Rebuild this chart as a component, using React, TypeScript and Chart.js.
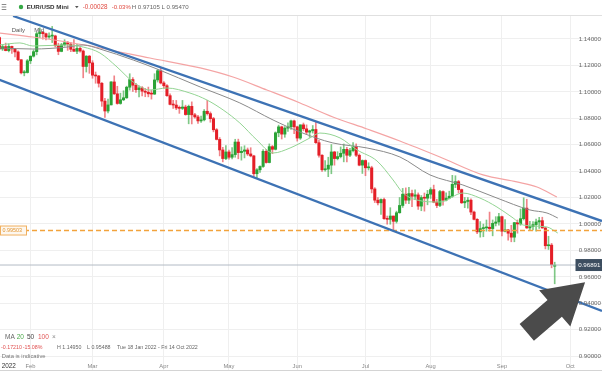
import React, { useEffect, useRef } from "react";
import { Chart, registerables } from "chart.js";
Chart.register(...registerables);

// Daily EUR/USD candles, 18 Jan 2022 (index 0) .. 26 Sep 2022 (index 179), trading-day index
const opens = [
  1.1410,1.1325,1.1342,1.1312,1.1344,1.1325,1.1302,1.1243,1.1144,1.1146,
  1.1235,1.1270,1.1304,1.1440,1.1452,1.1440,1.1415,1.1422,1.1423,1.1349,
  1.1306,1.1356,1.1372,1.1361,1.1322,1.1307,1.1329,1.1309,1.1192,1.1270,
  1.1219,1.1126,1.1120,1.1065,1.0930,1.0855,1.0901,1.1075,1.0985,1.0912,
  1.0940,1.0955,1.1035,1.1093,1.1050,1.1016,1.1030,1.1005,1.0997,1.0985,
  1.0983,1.1090,1.1160,1.1067,1.1046,1.0971,1.0905,1.0900,1.0878,1.0875,
  1.0885,1.0828,1.0890,1.0826,1.0810,1.0780,1.0788,1.0853,1.0835,1.0797,
  1.0713,1.0640,1.0560,1.0495,1.0545,1.0505,1.0525,1.0620,1.0540,1.0550,
  1.0560,1.0530,1.0515,1.0380,1.0410,1.0435,1.0550,1.0465,1.0585,1.0565,
  1.0690,1.0735,1.0680,1.0725,1.0735,1.0780,1.0735,1.0650,1.0750,1.0720,
  1.0695,1.0705,1.0715,1.0615,1.0520,1.0410,1.0415,1.0445,1.0545,1.0495,
  1.0510,1.0535,1.0565,1.0520,1.0555,1.0585,1.0520,1.0445,1.0480,1.0425,
  1.0425,1.0265,1.0180,1.0160,1.0185,1.0040,1.0035,1.0060,1.0020,1.0085,
  1.0140,1.0225,1.0180,1.0230,1.0210,1.0220,1.0135,1.0200,1.0195,1.0225,
  1.0260,1.0165,1.0140,1.0245,1.0180,1.0195,1.0210,1.0300,1.0320,1.0260,
  1.0160,1.0170,1.0180,1.0090,1.0035,0.9940,0.9965,0.9970,0.9975,0.9965,
  1.0005,1.0015,1.0055,0.9945,0.9955,0.9930,0.9900,1.0010,1.0000,1.0040,
  1.0120,0.9970,0.9980,0.9995,1.0015,1.0025,0.9970,0.9835,0.9840,0.9680,
];
const highs = [
  1.1417,1.1357,1.1369,1.1363,1.1347,1.1330,1.1310,1.1245,1.1162,1.1245,
  1.1272,1.1317,1.1451,1.1484,1.1454,1.1445,1.1446,1.1495,1.1429,1.1368,
  1.1367,1.1395,1.1382,1.1374,1.1395,1.1360,1.1343,1.1317,1.1274,1.1276,
  1.1236,1.1150,1.1125,1.1071,1.0950,1.0945,1.1078,1.1121,1.1042,1.0990,
  1.1008,1.1043,1.1137,1.1107,1.1064,1.1046,1.1039,1.1026,1.1036,1.1011,
  1.1137,1.1170,1.1185,1.1077,1.1054,1.0985,1.0936,1.0935,1.0893,1.0935,
  1.0899,1.0900,1.0924,1.0838,1.0822,1.0817,1.0866,1.0936,1.0848,1.0807,
  1.0722,1.0654,1.0580,1.0594,1.0560,1.0578,1.0641,1.0642,1.0584,1.0592,
  1.0575,1.0577,1.0520,1.0420,1.0440,1.0563,1.0564,1.0606,1.0594,1.0697,
  1.0748,1.0740,1.0737,1.0765,1.0787,1.0786,1.0740,1.0750,1.0764,1.0750,
  1.0710,1.0745,1.0774,1.0632,1.0525,1.0480,1.0505,1.0601,1.0550,1.0547,
  1.0583,1.0605,1.0580,1.0572,1.0615,1.0606,1.0530,1.0485,1.0485,1.0463,
  1.0437,1.0275,1.0200,1.0190,1.0195,1.0060,1.0123,1.0060,1.0097,1.0200,
  1.0269,1.0273,1.0277,1.0256,1.0258,1.0235,1.0215,1.0234,1.0254,1.0274,
  1.0294,1.0187,1.0254,1.0250,1.0235,1.0248,1.0368,1.0365,1.0330,1.0264,
  1.0200,1.0200,1.0190,1.0098,1.0040,1.0018,0.9999,1.0030,1.0090,1.0030,
  1.0055,1.0080,1.0060,1.0033,0.9960,0.9990,1.0012,1.0030,1.0113,1.0198,
  1.0187,1.0020,1.0018,1.0036,1.0050,1.0051,0.9976,0.9907,0.9853,0.97105,
];
const lows = [
  1.1323,1.1313,1.1310,1.1302,1.1290,1.1264,1.1236,1.1136,1.1121,1.1142,
  1.1214,1.1263,1.1280,1.1410,1.1398,1.1393,1.1405,1.1373,1.1340,1.1281,
  1.1303,1.1346,1.1314,1.1304,1.1305,1.1288,1.1300,1.1106,1.1150,1.1140,
  1.1103,1.1065,1.1036,1.0890,1.0806,1.0840,1.0901,1.0980,1.0906,1.0906,
  1.0933,1.0950,1.1013,1.1003,1.0996,1.0962,1.0970,1.0963,1.0962,1.0945,
  1.0980,1.1074,1.1060,1.1028,1.0965,1.0901,1.0875,1.0865,1.0837,1.0866,
  1.0823,1.0758,1.0757,1.0800,1.0761,1.0769,1.0780,1.0824,1.0770,1.0697,
  1.0636,1.0515,1.0470,1.0487,1.0490,1.0492,1.0505,1.0493,1.0483,1.0500,
  1.0518,1.0508,1.0354,1.0350,1.0390,1.0428,1.0460,1.0462,1.0532,1.0560,
  1.0660,1.0643,1.0656,1.0700,1.0716,1.0683,1.0627,1.0640,1.0705,1.0680,
  1.0655,1.0688,1.0610,1.0505,1.0398,1.0400,1.0358,1.0380,1.0445,1.0485,
  1.0500,1.0470,1.0470,1.0510,1.0545,1.0510,1.0440,1.0382,1.0365,1.0408,
  1.0235,1.0162,1.0144,1.0072,1.0035,0.9998,0.9998,0.9952,1.0007,1.0081,
  1.0125,1.0155,1.0153,1.0130,1.0183,1.0110,1.0100,1.0097,1.0145,1.0193,
  1.0160,1.0123,1.0130,1.0142,1.0175,1.0190,1.0202,1.0275,1.0235,1.0155,
  1.0123,1.0120,1.0070,1.0030,0.9926,0.9900,0.9903,0.9945,0.9945,0.9910,
  0.9985,0.9990,0.9910,0.9940,0.9877,0.9865,0.9865,0.9930,0.9990,1.0030,
  0.9966,0.9955,0.9955,0.9945,0.9966,0.9967,0.9811,0.9807,0.9668,0.9547,
];
const closes = [
  1.1325,1.1342,1.1312,1.1344,1.1325,1.1302,1.1243,1.1144,1.1146,1.1235,
  1.1270,1.1304,1.1440,1.1452,1.1440,1.1415,1.1422,1.1423,1.1349,1.1306,
  1.1356,1.1372,1.1361,1.1322,1.1307,1.1329,1.1309,1.1192,1.1270,1.1219,
  1.1126,1.1120,1.1065,1.0930,1.0855,1.0901,1.1075,1.0985,1.0912,1.0940,
  1.0955,1.1035,1.1093,1.1050,1.1016,1.1030,1.1005,1.0997,1.0985,1.0983,
  1.1090,1.1160,1.1067,1.1046,1.0971,1.0905,1.0900,1.0878,1.0875,1.0885,
  1.0828,1.0890,1.0826,1.0810,1.0780,1.0788,1.0853,1.0835,1.0797,1.0713,
  1.0640,1.0560,1.0495,1.0545,1.0505,1.0525,1.0620,1.0540,1.0550,1.0560,
  1.0530,1.0515,1.0380,1.0410,1.0435,1.0550,1.0465,1.0585,1.0565,1.0690,
  1.0735,1.0680,1.0725,1.0735,1.0780,1.0735,1.0650,1.0750,1.0720,1.0695,
  1.0705,1.0715,1.0615,1.0520,1.0410,1.0415,1.0445,1.0545,1.0495,1.0510,
  1.0535,1.0565,1.0520,1.0555,1.0585,1.0520,1.0445,1.0480,1.0425,1.0425,
  1.0265,1.0180,1.0160,1.0185,1.0040,1.0035,1.0060,1.0020,1.0085,1.0140,
  1.0225,1.0180,1.0230,1.0210,1.0220,1.0135,1.0200,1.0195,1.0225,1.0260,
  1.0165,1.0140,1.0245,1.0180,1.0195,1.0210,1.0300,1.0320,1.0260,1.0160,
  1.0170,1.0180,1.0090,1.0035,0.9940,0.9965,0.9970,0.9975,0.9965,1.0005,
  1.0015,1.0055,0.9945,0.9955,0.9930,0.9900,1.0010,1.0000,1.0040,1.0120,
  0.9970,0.9980,0.9995,1.0015,1.0025,0.9970,0.9835,0.9840,0.9692,0.96891,
];

// Moving averages (trading-day index, value)
const ma20Idx = [0,6.6,10.8,21.8,27,32.4,37.9,43.1,48.5,54,61.4,66.9,72.1,77.5,83,88.2,93.7,100.1,103.3,109.8,115.3,121.7,126.9,130.1,134.6,142,149.4,154.9,160.4,165.6,168.8,176.5,180];
const ma20Vals = [1.1355,1.1370,1.1347,1.1355,1.1339,1.1294,1.1188,1.1075,1.1014,1.1029,1.0991,1.0938,1.0863,1.0764,1.0635,1.0537,1.0575,1.0651,1.0688,1.0651,1.0560,1.0477,1.0333,1.0234,1.0181,1.0166,1.0234,1.0196,1.0128,1.0045,0.9992,0.9977,0.9931];
const ma50Idx = [0,10.8,21.8,27,32.4,43.1,50.8,64.7,77.5,88.2,96.9,107.5,118.5,129.1,138.8,149.4,160.4,171,176.5,180];
const ma50Vals = [1.1332,1.1324,1.1339,1.1355,1.1324,1.1241,1.1173,1.1037,1.0916,1.0787,1.0696,1.0613,1.0575,1.0507,1.0371,1.0295,1.0196,1.0106,1.0083,1.0045];
const ma100Idx = [0,10.8,21.8,32.4,48.5,64.7,75.3,86.2,96.9,107.5,118.5,129.1,142,155.9,166.8,173.3,179.7];
const ma100Vals = [1.1445,1.1415,1.1377,1.1332,1.1256,1.1181,1.1112,1.1014,1.0916,1.0810,1.0719,1.0628,1.0507,1.0371,1.0318,1.0280,1.0204];

// Trend channel, support level, last price, arrow
const channelUpperIdx = [4.4, 194.25];
const channelUpperVals = [1.1574, 1.0022];
const channelLowerIdx = [0, 194.25];
const channelLowerVals = [1.1091, 0.9341];
const supportLevel = 0.99503;
const lastPrice = 0.96891;
const arrowTail = [170.0, 0.9180];
const arrowTip = [188.8, 0.9558];

// Axes
const xMin = 0.177;
const xMax = 194.25;
const yMin = 0.8887;
const yMax = 1.1574;
const xTickIdx = [10, 30, 53, 74, 96, 118, 139, 162, 184];
const xTickLabels = ["Feb", "Mar", "Apr", "May", "Jun", "Jul", "Aug", "Sep", "Oct"];
const yearLabel = "2022";
const yTicks = [0.90, 0.92, 0.94, 0.96, 0.98, 1.00, 1.02, 1.04, 1.06, 1.08, 1.10, 1.12, 1.14];

const FONT = '"Liberation Sans", Arial, sans-serif';

function txt(ctx: CanvasRenderingContext2D, s: string, x: number, y: number, size: number, color: string, align: CanvasTextAlign = "left", weight = "normal") {
  ctx.font = `${weight} ${size}px ${FONT}`;
  ctx.fillStyle = color;
  ctx.textAlign = align;
  ctx.textBaseline = "middle";
  ctx.fillText(s, x, y);
}

const overlay = {
  id: "overlay",
  afterDraw(chart: any) {
    const ctx: CanvasRenderingContext2D = chart.ctx;
    const xs = chart.scales.x;
    const ys = chart.scales.y;
    const W = chart.width;
    ctx.save();

    // arrow
    const tx = xs.getPixelForValue(arrowTip[0]);
    const ty = ys.getPixelForValue(arrowTip[1]);
    const bx = xs.getPixelForValue(arrowTail[0]);
    const by = ys.getPixelForValue(arrowTail[1]);
    const dx = tx - bx, dy = ty - by;
    const len = Math.hypot(dx, dy);
    const ux = dx / len, uy = dy / len;
    const nx = -uy, ny = ux;
    const headLen = 40, headHalf = 24, shaftHalf = 11;
    const hx = tx - ux * headLen, hy = ty - uy * headLen;
    ctx.beginPath();
    ctx.moveTo(bx + nx * shaftHalf, by + ny * shaftHalf);
    ctx.lineTo(hx + nx * shaftHalf, hy + ny * shaftHalf);
    ctx.lineTo(hx + nx * headHalf, hy + ny * headHalf);
    ctx.lineTo(tx, ty);
    ctx.lineTo(hx - nx * headHalf, hy - ny * headHalf);
    ctx.lineTo(hx - nx * shaftHalf, hy - ny * shaftHalf);
    ctx.lineTo(bx - nx * shaftHalf, by - ny * shaftHalf);
    ctx.closePath();
    ctx.fillStyle = "#4b4b4b";
    ctx.fill();

    // y tick labels
    yTicks.forEach((v) => {
      txt(ctx, v.toFixed(5), W - 1, ys.getPixelForValue(v), 6.2, "#666", "right");
    });

    // last price box
    const lp = ys.getPixelForValue(lastPrice);
    ctx.fillStyle = "#3d4e60";
    ctx.fillRect(575.5, lp - 6, 26.5, 12);
    txt(ctx, lastPrice.toFixed(5), W - 1.5, lp + 0.3, 6.2, "#ffffff", "right");

    // support label
    const sp = ys.getPixelForValue(supportLevel);
    ctx.fillStyle = "#fdf7ef";
    ctx.fillRect(0.5, sp - 4.5, 26, 9);
    ctx.strokeStyle = "#f0b060";
    ctx.lineWidth = 1;
    ctx.strokeRect(0.5, sp - 4.5, 26, 9);
    txt(ctx, supportLevel.toFixed(5), 2.5, sp + 0.2, 5.4, "#e39530");

    // header
    ctx.fillStyle = "#ffffff";
    ctx.fillRect(0, 0, W, 15);
    ctx.strokeStyle = "#e0e0e0";
    ctx.beginPath(); ctx.moveTo(0, 15.5); ctx.lineTo(W, 15.5); ctx.stroke();
    ctx.strokeStyle = "#8a8a8a";
    [4.5, 7, 9.5].forEach((yy) => { ctx.beginPath(); ctx.moveTo(1.7, yy); ctx.lineTo(6.3, yy); ctx.stroke(); });
    ctx.fillStyle = "#35a845";
    ctx.beginPath(); ctx.arc(21, 7, 2.2, 0, Math.PI * 2); ctx.fill();
    txt(ctx, "EUR/USD Mini", 26.7, 7, 6.2, "#333", "left", "bold");
    ctx.fillStyle = "#555";
    ctx.beginPath(); ctx.moveTo(75, 6); ctx.lineTo(78.6, 6); ctx.lineTo(76.8, 8.2); ctx.closePath(); ctx.fill();
    txt(ctx, "-0.00028", 82.7, 7, 6.3, "#e0483f");
    txt(ctx, "-0.03%", 111.7, 7, 6.0, "#e0483f");
    txt(ctx, "H 0.97105 L 0.95470", 131.7, 7, 6.1, "#666");

    txt(ctx, "Daily", 11.7, 30.5, 6, "#555");
    txt(ctx, "Mid", 34.3, 30.5, 6, "#555");

    // legend bottom-left
    txt(ctx, "MA", 5, 337, 6.5, "#666");
    txt(ctx, "20", 16.7, 337, 6.5, "#49a949");
    txt(ctx, "50", 27, 337, 6.5, "#444");
    txt(ctx, "100", 38, 337, 6.5, "#e05555");
    txt(ctx, "\u00d7", 52, 337, 6.5, "#888");
    txt(ctx, "-0.17210", 1, 347.5, 5.3, "#e05050");
    txt(ctx, "-15.08%", 22.7, 347.5, 5.3, "#e05050");
    txt(ctx, "H 1.14950", 57, 347.5, 5.3, "#666");
    txt(ctx, "L 0.95488", 87, 347.5, 5.3, "#666");
    txt(ctx, "Tue 18 Jan 2022 - Fri 14 Oct 2022", 117, 347.5, 5.3, "#666");
    txt(ctx, "Data is indicative", 1.7, 356.3, 5.8, "#777");

    // x labels
    txt(ctx, yearLabel, 1.7, 366, 6.4, "#333");
    xTickIdx.forEach((v, i) => {
      txt(ctx, xTickLabels[i], xs.getPixelForValue(v), 366, 5.8, "#888", "center");
    });
    ctx.strokeStyle = "#d4d4d4";
    ctx.beginPath(); ctx.moveTo(0, 370.5); ctx.lineTo(W, 370.5); ctx.stroke();

    ctx.restore();
  },
};

export default function App() {
  const ref = useRef<HTMLCanvasElement>(null);
  useEffect(() => {
    const canvas = ref.current!;
    const up = closes.map((c, i) => c >= opens[i]);
    const bodyColors = up.map((u) => (u ? "#2aa336" : "#e41e27"));
    const wickColors = up.map((u) => (u ? "rgba(42,163,54,0.6)" : "rgba(228,30,39,0.55)"));
    const wickData = closes.map((_, i) => ({ x: i, y: [lows[i], highs[i]] }));
    const bodyData = closes.map((c, i) => ({ x: i, y: [opens[i], c] }));
    const pts = (xa: number[], ya: number[]) => xa.map((x, i) => ({ x, y: ya[i] }));
    const lineBase = { type: "line", pointRadius: 0, fill: false, borderCapStyle: "butt" };

    const chart = new Chart(canvas, {
      type: "bar",
      data: {
        datasets: [
          { ...lineBase, label: "Upper channel", data: pts(channelUpperIdx, channelUpperVals), borderColor: "#3d72b4", borderWidth: 2.3, order: 0 },
          { ...lineBase, label: "Lower channel", data: pts(channelLowerIdx, channelLowerVals), borderColor: "#3d72b4", borderWidth: 2.3, order: 0 },
          { ...lineBase, label: "Support", data: [{ x: xMin, y: supportLevel }, { x: xMax, y: supportLevel }], borderColor: "#f2a33c", borderWidth: 1.5, borderDash: [5, 3], order: 1 },
          { ...lineBase, label: "Last", data: [{ x: xMin, y: lastPrice }, { x: xMax, y: lastPrice }], borderColor: "#b3bbc5", borderWidth: 1, order: 1 },
          { ...lineBase, label: "MA 20", data: pts(ma20Idx, ma20Vals), borderColor: "#93d493", borderWidth: 1, cubicInterpolationMode: "monotone", order: 2 },
          { ...lineBase, label: "MA 50", data: pts(ma50Idx, ma50Vals), borderColor: "#8a8a8a", borderWidth: 1, cubicInterpolationMode: "monotone", order: 3 },
          { ...lineBase, label: "MA 100", data: pts(ma100Idx, ma100Vals), borderColor: "#f4a4a4", borderWidth: 1.2, cubicInterpolationMode: "monotone", order: 4 },
          { type: "bar", label: "Body", data: bodyData, backgroundColor: bodyColors, barThickness: 2.4, minBarLength: 1, grouped: false, borderWidth: 0, order: 5 },
          { type: "bar", label: "Wick", data: wickData, backgroundColor: wickColors, barThickness: 1, grouped: false, borderWidth: 0, order: 6 },
        ],
      } as any,
      options: {
        responsive: false,
        animation: false,
        devicePixelRatio: 1,
        events: [],
        layout: { padding: { top: 16, left: 0, right: 0, bottom: 0 } },
        plugins: { legend: { display: false }, tooltip: { enabled: false } },
        scales: {
          x: {
            type: "linear",
            min: xMin,
            max: xMax,
            offset: false,
            ticks: { display: false },
            grid: { color: "#efefef", drawTicks: false, offset: false },
            border: { display: false },
            afterBuildTicks: (s: any) => { s.ticks = xTickIdx.map((v) => ({ value: v })); },
          },
          y: {
            type: "linear",
            position: "right",
            min: yMin,
            max: yMax,
            ticks: { display: false },
            grid: { color: "#efefef", drawTicks: false },
            border: { display: false },
            afterBuildTicks: (s: any) => { s.ticks = yTicks.map((v) => ({ value: v })); },
          },
        },
      } as any,
      plugins: [overlay],
    } as any);
    return () => chart.destroy();
  }, []);

  return (
    <div style={{ position: "fixed", left: 0, top: 0, width: 602, height: 371, background: "#fff", overflow: "hidden" }}>
      <canvas ref={ref} width={602} height={371} style={{ display: "block", width: 602, height: 371 }} />
    </div>
  );
}
